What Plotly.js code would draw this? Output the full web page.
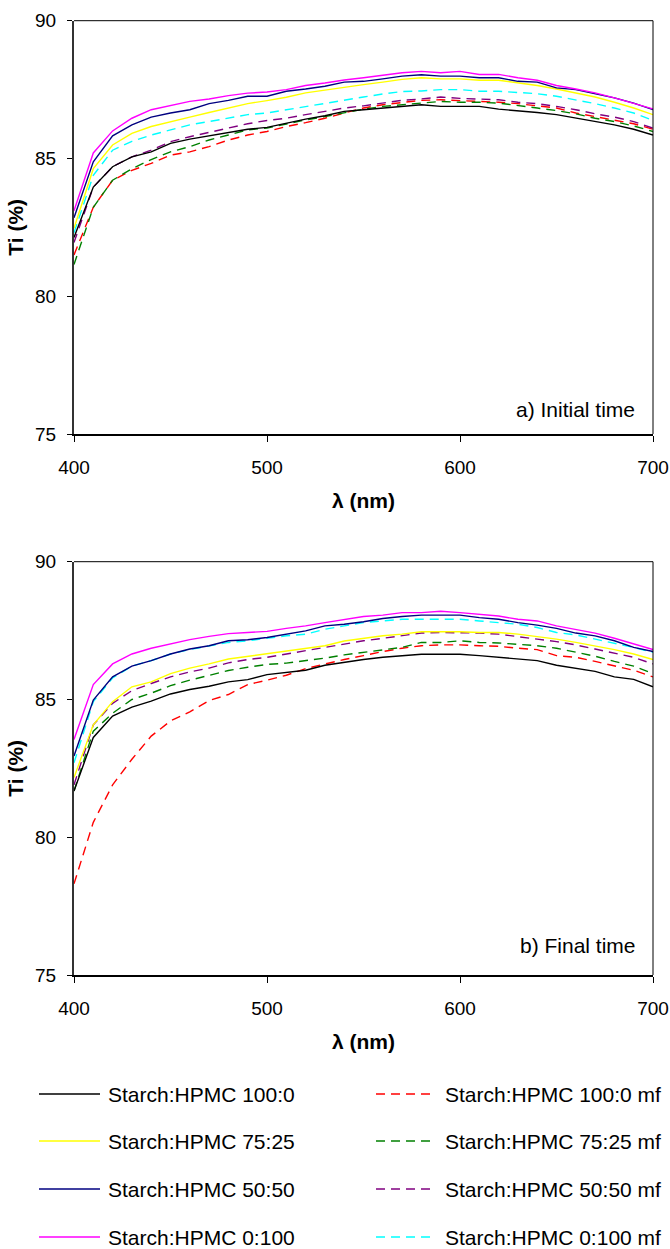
<!DOCTYPE html>
<html><head><meta charset="utf-8">
<script src="https://cdn.plot.ly/plotly-3.0.1.min.js"></script>
<style>html,body{margin:0;padding:0;background:#fff}#chart{width:670px;height:1249px}</style>
</head><body><div id="chart"></div>
<script>
// ---- data ----
const wavelengthNm = [400,410,420,430,440,450,460,470,480,490,500,510,520,530,540,550,560,570,580,590,600,610,620,630,640,650,660,670,680,690,700];
const xTickVals = [400,500,600,700];
const yTickVals = [75,80,85,90];

const seriesLabels = ['Starch:HPMC 100:0','Starch:HPMC 75:25','Starch:HPMC 50:50','Starch:HPMC 0:100',
                      'Starch:HPMC 100:0 mf','Starch:HPMC 75:25 mf','Starch:HPMC 50:50 mf','Starch:HPMC 0:100 mf'];
const panelLabels = ['a) Initial time','b) Final time'];

// a) Initial time
const init_100_0   = [82.13,83.96,84.70,85.06,85.24,85.55,85.70,85.82,85.94,86.06,86.13,86.28,86.43,86.55,86.71,86.77,86.83,86.91,86.95,86.89,86.89,86.89,86.79,86.74,86.67,86.59,86.46,86.34,86.22,86.06,85.85];
const init_75_25   = [82.47,84.63,85.49,85.91,86.16,86.34,86.50,86.67,86.83,86.99,87.10,87.22,87.38,87.48,87.60,87.68,87.77,87.87,87.93,87.89,87.89,87.84,87.84,87.74,87.65,87.52,87.38,87.23,87.04,86.83,86.59];
const init_50_50   = [82.85,84.88,85.82,86.22,86.50,86.65,86.77,86.99,87.11,87.26,87.26,87.44,87.52,87.62,87.77,87.80,87.89,87.99,88.04,87.99,87.99,87.93,87.93,87.80,87.77,87.56,87.50,87.35,87.20,87.01,86.77];
const init_0_100   = [83.10,85.20,86.00,86.46,86.77,86.91,87.07,87.16,87.28,87.37,87.41,87.50,87.65,87.74,87.85,87.93,88.01,88.11,88.16,88.11,88.16,88.05,88.05,87.93,87.84,87.65,87.52,87.38,87.20,86.99,86.80];
const init_100_0mf = [81.50,83.23,84.21,84.57,84.82,85.12,85.24,85.43,85.67,85.85,85.98,86.16,86.30,86.46,86.65,86.83,86.95,87.04,87.11,87.13,87.11,87.07,87.04,86.99,86.91,86.83,86.65,86.52,86.40,86.26,86.06];
const init_75_25mf = [81.15,83.23,84.21,84.63,84.96,85.24,85.43,85.67,85.85,86.04,86.10,86.26,86.40,86.52,86.65,86.79,86.89,86.95,87.01,87.07,87.04,87.04,87.01,86.91,86.83,86.74,86.62,86.46,86.34,86.18,85.98];
const init_50_50mf = [81.95,83.96,84.70,85.06,85.30,85.61,85.79,85.94,86.10,86.26,86.38,86.46,86.59,86.71,86.83,86.91,87.01,87.11,87.16,87.23,87.18,87.16,87.13,87.04,86.99,86.89,86.77,86.62,86.50,86.34,86.10];
const init_0_100mf = [82.30,84.39,85.30,85.62,85.85,86.04,86.22,86.34,86.46,86.59,86.65,86.77,86.89,87.01,87.13,87.23,87.34,87.43,87.45,87.50,87.50,87.44,87.44,87.40,87.35,87.26,87.13,86.99,86.83,86.65,86.38];

// b) Final time
const final_100_0   = [81.68,83.62,84.40,84.72,84.94,85.20,85.36,85.48,85.64,85.72,85.90,85.97,86.06,86.24,86.35,86.45,86.53,86.59,86.64,86.64,86.64,86.59,86.53,86.47,86.41,86.24,86.12,86.02,85.82,85.73,85.46];
const final_75_25   = [82.17,84.08,84.92,85.46,85.64,85.94,86.14,86.29,86.47,86.57,86.67,86.77,86.86,86.95,87.12,87.22,87.31,87.37,87.46,87.46,87.46,87.43,87.43,87.37,87.29,87.19,87.07,86.95,86.81,86.65,86.45];
const final_50_50   = [82.95,84.98,85.82,86.21,86.41,86.65,86.83,86.95,87.13,87.17,87.25,87.37,87.49,87.67,87.73,87.82,87.94,88.01,88.06,88.06,88.06,87.97,87.91,87.79,87.70,87.58,87.41,87.31,87.13,86.89,86.74];
const final_0_100   = [83.55,85.54,86.29,86.65,86.86,87.01,87.17,87.29,87.39,87.43,87.47,87.58,87.67,87.79,87.89,88.01,88.06,88.15,88.15,88.20,88.15,88.09,88.03,87.91,87.85,87.67,87.55,87.41,87.22,87.01,86.81];
const final_100_0mf = [78.31,80.54,81.90,82.83,83.67,84.22,84.55,84.96,85.18,85.54,85.70,85.88,86.12,86.29,86.45,86.59,86.74,86.86,86.95,86.98,86.98,86.95,86.93,86.86,86.81,86.59,86.53,86.38,86.21,86.06,85.82];
const final_75_25mf = [81.68,83.85,84.50,85.00,85.23,85.50,85.70,85.87,86.05,86.17,86.27,86.32,86.41,86.50,86.62,86.71,86.81,86.89,87.07,87.07,87.13,87.07,87.05,87.01,86.95,86.86,86.71,86.57,86.38,86.21,85.94];
const final_50_50mf = [81.90,84.08,84.86,85.32,85.58,85.82,86.00,86.14,86.33,86.45,86.53,86.65,86.77,86.89,87.01,87.13,87.22,87.31,87.41,87.43,87.43,87.41,87.37,87.29,87.19,87.10,86.98,86.83,86.69,86.53,86.29];
const final_0_100mf = [82.70,84.92,85.78,86.21,86.41,86.65,86.81,86.95,87.07,87.13,87.22,87.31,87.37,87.55,87.67,87.79,87.85,87.91,87.91,87.91,87.91,87.85,87.79,87.73,87.61,87.43,87.34,87.19,87.05,86.89,86.71];

// ---- styles ----
const lineColors = ['#000000','#FFFF00','#000080','#FF00FF','#FF0000','#008000','#800080','#00FFFF'];
const lineDashes = ['solid','solid','solid','solid','9px,6px','9px,6px','9px,6px','9px,6px'];
const FONT = 'Liberation Sans, Arial, sans-serif';

const initialSeries = [init_100_0, init_75_25, init_50_50, init_0_100, init_100_0mf, init_75_25mf, init_50_50mf, init_0_100mf];
const finalSeries = [final_100_0, final_75_25, final_50_50, final_0_100, final_100_0mf, final_75_25mf, final_50_50mf, final_0_100mf];

const traces = [];
const drawOrder = [4,5,6,7,0,1,2,3];
[initialSeries, finalSeries].forEach((series, p) => {
  drawOrder.forEach(i => {
    traces.push({
      type: 'scatter', mode: 'lines',
      x: wavelengthNm, y: series[i],
      xaxis: p === 0 ? 'x' : 'x2', yaxis: p === 0 ? 'y' : 'y2',
      name: seriesLabels[i], showlegend: false,
      line: {color: lineColors[i], width: 1.4, dash: lineDashes[i]},
      hoverinfo: 'x+y+name'
    });
  });
});

// geometry helpers (pixel -> paper)
const W = 670, H = 1249, ML = 74, MR = 17;
const PW = W - ML - MR;
const px2x = px => (px - ML) / PW;
const px2y = py => 1 - py / H;

function xAxis(anchor) {
  return {
    anchor: anchor, domain: [0, 1], range: [400, 700], tickvals: xTickVals,
    ticks: 'outside', ticklen: 6, tickwidth: 1, tickcolor: '#000',
    showline: true, linecolor: '#000', linewidth: 1.5,
    showgrid: false, zeroline: false,
    tickfont: {family: FONT, size: 19, color: '#000'},
    ticklabelstandoff: 10,
    title: {text: 'λ (nm)', font: {family: FONT, size: 21, color: '#000', weight: 'bold'}, standoff: 16}
  };
}
function yAxis(anchor, dom) {
  return {
    anchor: anchor, domain: dom, range: [75, 90], tickvals: yTickVals,
    ticks: 'outside', ticklen: 5, tickwidth: 1, tickcolor: '#000',
    showline: true, linecolor: '#333', linewidth: 2,
    showgrid: false, zeroline: false,
    tickfont: {family: FONT, size: 19, color: '#000'},
    ticklabelstandoff: 7,
    title: {text: 'Ti (%)', font: {family: FONT, size: 21, color: '#000', weight: 'bold'}, standoff: 6}
  };
}

const shapes = [];
const annotations = [];
[['x','y'],['x2','y2']].forEach(([xa, ya]) => {
  shapes.push({type:'line', xref: xa+' domain', yref: ya+' domain', x0:0, x1:1, y0:1, y1:1, line:{color:'#000', width:1}});
  shapes.push({type:'line', xref: xa+' domain', yref: ya+' domain', x0:1, x1:1, y0:0, y1:1, line:{color:'#000', width:1}});
});

annotations.push({xref:'paper', yref:'paper', x: px2x(637), y: px2y(409), xanchor:'right', yanchor:'middle',
  text: panelLabels[0], showarrow:false, font:{family:FONT, size:21, color:'#000'}});
annotations.push({xref:'paper', yref:'paper', x: px2x(638), y: px2y(945), xanchor:'right', yanchor:'middle',
  text: panelLabels[1], showarrow:false, font:{family:FONT, size:21, color:'#000'}});

const rowY = [1094, 1141, 1189, 1237];
const colLine = [[39, 100], [376, 434]];
const colText = [106, 443];
seriesLabels.forEach((lab, i) => {
  const col = i < 4 ? 0 : 1, row = i % 4;
  shapes.push({type:'line', xref:'paper', yref:'paper',
    x0: px2x(colLine[col][0]), x1: px2x(colLine[col][1]), y0: px2y(rowY[row]), y1: px2y(rowY[row]),
    line:{color: lineColors[i], width: 1.4, dash: lineDashes[i]}});
  annotations.push({xref:'paper', yref:'paper', x: px2x(colText[col]), y: px2y(rowY[row]),
    xanchor:'left', yanchor:'middle', text: lab, showarrow:false,
    font:{family:FONT, size:21, color:'#000'}});
});

const layout = {
  width: W, height: H,
  margin: {l: ML, r: MR, t: 0, b: 0, pad: 0},
  paper_bgcolor: '#fff', plot_bgcolor: '#fff',
  showlegend: false,
  xaxis: xAxis('y'),
  yaxis: yAxis('x', [px2y(434), px2y(20.7)]),
  xaxis2: xAxis('y2'),
  yaxis2: yAxis('x2', [px2y(975), px2y(561.7)]),
  shapes: shapes,
  annotations: annotations,
  font: {family: FONT, color: '#000'}
};

Plotly.newPlot('chart', traces, layout, {staticPlot: true, displayModeBar: false});
</script></body></html>
